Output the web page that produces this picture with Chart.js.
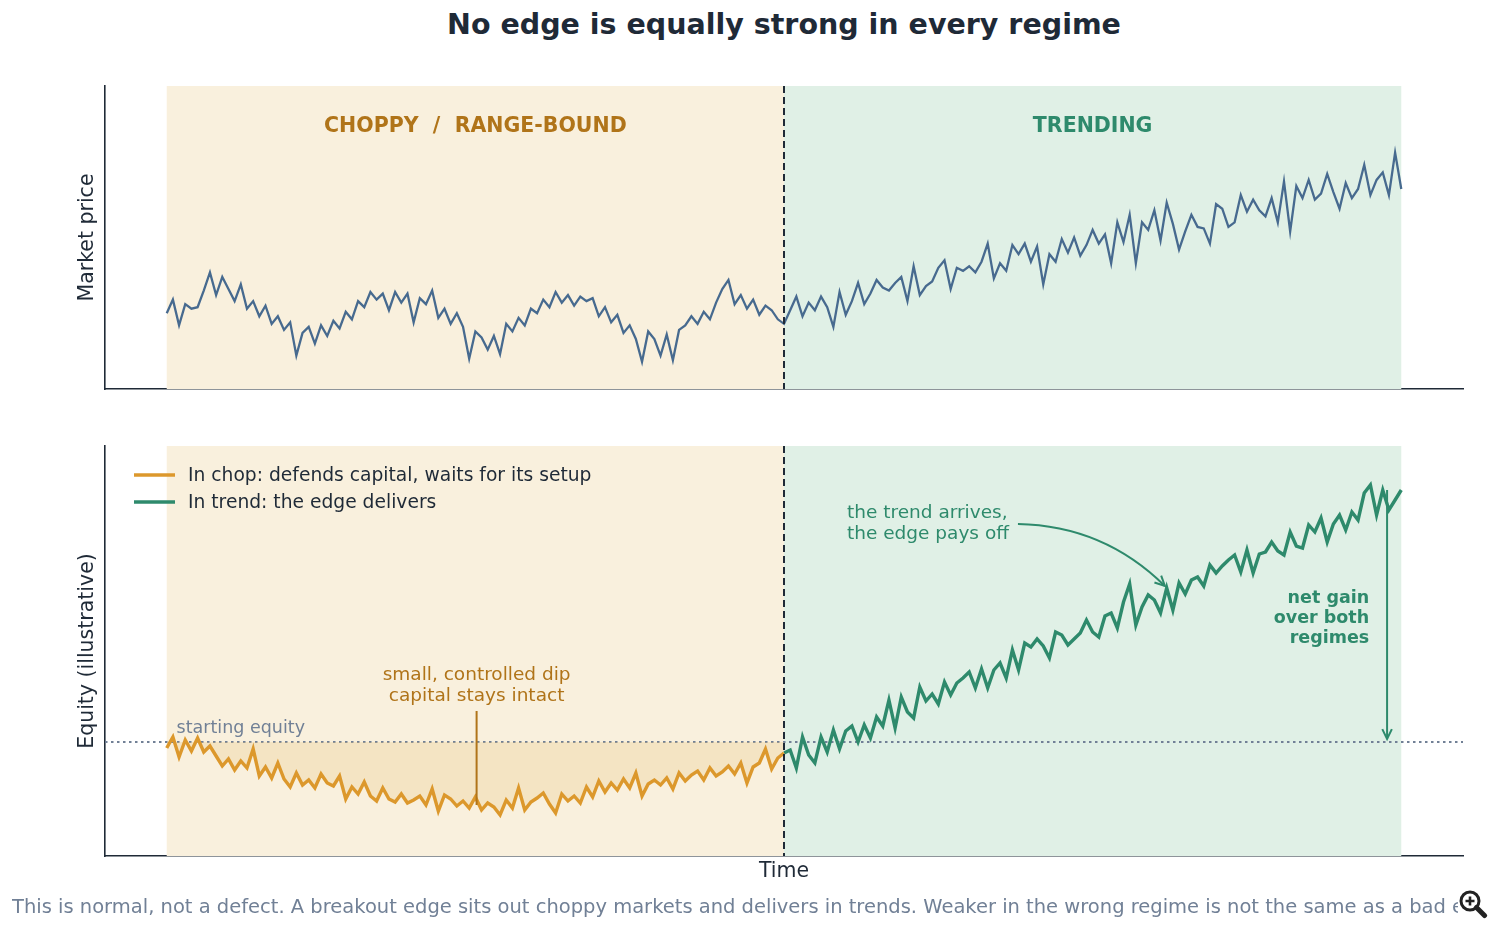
<!DOCTYPE html>
<html>
<head>
<meta charset="utf-8">
<script src="https://cdn.jsdelivr.net/npm/chart.js@4.4.1/dist/chart.umd.min.js"></script>
<style>
  body { margin: 0; background: #fff; width: 1500px; height: 929px; overflow: hidden; position: relative; font-family: "DejaVu Sans", sans-serif; }
  canvas { position: absolute; left: 0; }
  #title { position: absolute; top: 9px; left: 105px; width: 1358px; text-align: center; font-weight: bold; font-size: 28.5px; line-height: 32px; color: #1f2a37; }
  #caption { position: absolute; top: 896px; left: 12px; width: 1446px; overflow: hidden; white-space: nowrap; font-size: 19.5px; line-height: 22px; color: #718096; }
  #zoomicon { position: absolute; left: 1458px; top: 889px; }
</style>
</head>
<body>
<div id="title">No edge is equally strong in every regime</div>
<canvas id="price" width="1500" height="400" style="top:0"></canvas>
<canvas id="equity" width="1500" height="529" style="top:400px"></canvas>
<div id="caption">This is normal, not a defect. A breakout edge sits out choppy markets and delivers in trends. Weaker in the wrong regime is not the same as a bad edge.</div>
<svg id="zoomicon" width="30" height="30" viewBox="0 0 30 30">
  <circle cx="12" cy="12" r="9" fill="#fff" stroke="#222" stroke-width="3"/>
  <path d="M12 7.5v9M7.5 12h9" stroke="#222" stroke-width="2.6"/>
  <path d="M18.5 18.5l8 8" stroke="#222" stroke-width="5" stroke-linecap="round"/>
</svg>
<script>
// time steps: 0..100 choppy, 100..200 trending
var STEPS = 200;
var SPLIT = 100;

// market price
var priceChop = [100.0, 104.5, 96.0, 103.0, 101.5, 102.0, 107.5, 113.5, 106.0, 112.0,
  108.0, 104.0, 109.5, 101.5, 104.0, 99.0, 102.5, 96.5, 99.0, 94.5,
  97.0, 86.0, 93.5, 95.5, 90.0, 96.0, 92.5, 97.5, 95.0, 100.5,
  98.0, 104.0, 102.0, 107.0, 104.5, 106.5, 101.0, 107.0, 103.5, 106.5,
  97.0, 105.0, 103.0, 107.5, 98.5, 101.5, 96.5, 100.0, 95.5, 85.0,
  94.0, 92.0, 88.0, 92.5, 86.5, 96.5, 94.0, 98.5, 96.0, 101.5,
  100.0, 104.5, 102.0, 107.0, 103.5, 106.0, 102.5, 105.5, 104.0, 105.0,
  99.0, 102.0, 97.0, 99.5, 93.5, 96.0, 91.5, 84.0, 94.0, 91.5,
  86.0, 93.0, 84.5, 94.5, 96.0, 99.0, 96.5, 100.5, 98.0, 103.5,
  108.0, 111.0, 103.0, 106.0, 101.5, 104.5, 99.5, 102.5, 101.0, 98.0,
  96.5];
var priceTrend = [101.0, 105.5, 99.0, 103.5, 101.0, 105.5, 102.0, 95.5, 107.0, 99.5,
  104.0, 110.0, 103.0, 106.5, 111.0, 108.5, 107.5, 110.0, 112.0, 104.0,
  115.5, 106.0, 109.0, 110.5, 115.0, 117.5, 108.0, 115.0, 114.0, 115.5,
  113.5, 117.0, 123.0, 111.5, 116.5, 114.0, 122.5, 119.5, 123.0, 117.0,
  122.0, 109.5, 119.5, 117.0, 124.5, 120.0, 125.0, 119.0, 122.5, 127.5,
  123.0, 126.0, 116.5, 130.0, 123.5, 132.5, 116.5, 130.0, 127.5, 134.0,
  124.0, 136.5, 129.5, 121.0, 127.0, 132.5, 128.5, 128.0, 123.0, 136.0,
  134.5, 128.5, 130.0, 139.0, 133.5, 137.5, 134.0, 132.0, 138.0, 130.0,
  143.5, 127.0, 142.0, 138.0, 144.0, 137.5, 139.5, 146.0, 140.0, 134.5,
  143.0, 138.0, 141.0, 149.0, 139.0, 144.0, 146.5, 139.0, 153.0, 141.0];

// equity (illustrative), starting equity = 100
var START_EQUITY = 100;
var equityChop = [99.4, 100.5, 98.5, 100.2, 99.1, 100.4, 99.0, 99.6, 98.6, 97.6,
  98.3, 97.2, 98.1, 97.4, 99.3, 96.6, 97.5, 96.4, 97.9, 96.3,
  95.5, 96.9, 95.7, 96.2, 95.4, 96.8, 95.9, 95.6, 96.6, 94.3,
  95.5, 94.8, 96.0, 94.6, 94.1, 95.4, 94.3, 94.0, 94.8, 93.9,
  94.2, 94.6, 93.7, 95.3, 93.1, 94.7, 94.3, 93.6, 94.1, 93.4,
  94.5, 93.2, 93.9, 93.5, 92.7, 94.2, 93.4, 95.4, 93.2, 94.0,
  94.4, 94.9, 93.8, 92.9, 94.8, 94.1, 94.6, 93.9, 95.5, 94.5,
  96.1, 95.0, 95.9, 95.2, 96.3, 95.4, 96.9, 94.6, 95.8, 96.2,
  95.7, 96.4, 95.3, 96.9, 96.1, 96.7, 97.1, 96.2, 97.4, 96.6,
  97.0, 97.6, 96.8, 97.9, 95.9, 97.5, 97.9, 99.3, 97.3, 98.4,
  98.9];
var equityTrend = [99.2, 97.4, 100.5, 98.7, 97.9, 100.5, 99.0, 101.2, 99.3, 101.1,
  101.6, 100.0, 101.7, 100.4, 102.5, 101.6, 104.2, 101.4, 104.5, 103.0,
  102.4, 105.5, 104.1, 104.8, 103.8, 106.0, 104.7, 105.9, 106.4, 107.0,
  105.4, 107.3, 105.4, 107.2, 107.9, 106.4, 109.2, 107.2, 109.9, 109.5,
  110.3, 109.6, 108.4, 111.0, 110.7, 109.7, 110.3, 110.9, 112.2, 111.0,
  110.5, 112.6, 112.9, 111.4, 114.0, 115.8, 111.7, 113.5, 114.7, 114.2,
  112.9, 115.4, 113.2, 115.9, 114.8, 116.2, 116.5, 115.6, 117.7, 116.9,
  117.6, 118.2, 118.7, 117.0, 119.2, 116.9, 118.8, 119.0, 120.0, 119.1,
  118.7, 121.0, 119.6, 119.4, 121.7, 121.0, 122.4, 120.0, 121.8, 122.7,
  121.2, 123.0, 122.2, 124.9, 125.7, 122.7, 125.2, 123.2, 124.2, 125.2];

var regimeLabels = ['CHOPPY  /  RANGE-BOUND', 'TRENDING'];
var seriesLabels = ['In chop: defends capital, waits for its setup', 'In trend: the edge delivers'];

var DARK = '#1f2a37';
var GRAY = '#718096';
var PRICE_COLOR = '#476a8f';
var CHOP_COLOR = '#dc982c';
var TREND_COLOR = '#2e8a6c';
var CHOP_TEXT = '#b07419';
var CHOP_BG = '#f9f0dd';
var TREND_BG = '#e0f0e6';
var FONT = '"DejaVu Sans", sans-serif';

function toPoints(values, offset) {
  return values.map(function (v, i) { return { x: offset + i, y: v }; });
}

function arrowHead(ctx, x, y, angle, size) {
  ctx.beginPath();
  ctx.moveTo(x - size * Math.cos(angle - 0.45), y - size * Math.sin(angle - 0.45));
  ctx.lineTo(x, y);
  ctx.lineTo(x - size * Math.cos(angle + 0.45), y - size * Math.sin(angle + 0.45));
  ctx.stroke();
}

// shaded regimes + dashed boundary, shared by both panels
var regimePlugin = {
  id: 'regimes',
  beforeDatasetsDraw: function (chart) {
    var ctx = chart.ctx, a = chart.chartArea, x = chart.scales.x;
    var x0 = x.getPixelForValue(0), xs = x.getPixelForValue(SPLIT), x1 = x.getPixelForValue(STEPS);
    ctx.save();
    ctx.fillStyle = CHOP_BG;
    ctx.fillRect(x0, a.top, xs - x0, a.bottom - a.top);
    ctx.fillStyle = TREND_BG;
    ctx.fillRect(xs, a.top, x1 - xs, a.bottom - a.top);
    if (chart.canvas.id === 'equity') {
      var y = chart.scales.y.getPixelForValue(START_EQUITY);
      ctx.strokeStyle = GRAY;
      ctx.lineWidth = 2;
      ctx.setLineDash([2.5, 3.5]);
      ctx.beginPath();
      ctx.moveTo(a.left, y);
      ctx.lineTo(a.right, y);
      ctx.stroke();
    }
    ctx.restore();
  },
  afterDatasetsDraw: function (chart) {
    var ctx = chart.ctx, a = chart.chartArea, x = chart.scales.x;
    var xs = x.getPixelForValue(SPLIT);
    ctx.save();
    ctx.strokeStyle = DARK;
    ctx.lineWidth = 2;
    ctx.setLineDash([7, 4]);
    ctx.beginPath();
    ctx.moveTo(xs, a.top);
    ctx.lineTo(xs, a.bottom);
    ctx.stroke();
    ctx.restore();
  }
};

var priceNotes = {
  id: 'priceNotes',
  afterDraw: function (chart) {
    var ctx = chart.ctx, x = chart.scales.x, y = chart.scales.y;
    ctx.save();
    ctx.font = 'bold 20.5px ' + FONT;
    ctx.textAlign = 'center';
    ctx.textBaseline = 'middle';
    ctx.fillStyle = CHOP_TEXT;
    ctx.fillText(regimeLabels[0], x.getPixelForValue(SPLIT / 2), y.getPixelForValue(161.5));
    ctx.fillStyle = TREND_COLOR;
    ctx.fillText(regimeLabels[1], x.getPixelForValue((SPLIT + STEPS) / 2), y.getPixelForValue(161.5));
    ctx.restore();
  }
};

var equityNotes = {
  id: 'equityNotes',
  afterDraw: function (chart) {
    var ctx = chart.ctx, a = chart.chartArea, x = chart.scales.x, y = chart.scales.y;
    var px = function (v) { return x.getPixelForValue(v); };
    var py = function (v) { return y.getPixelForValue(v) + 1.5; };
    ctx.save();
    ctx.textBaseline = 'middle';

    // legend
    ctx.font = '18.7px ' + FONT;
    ctx.textAlign = 'left';
    chart.data.datasets.forEach(function (ds, i) {
      var ly = a.top + 29 + i * 27;
      ctx.strokeStyle = ds.borderColor;
      ctx.lineWidth = 3.5;
      ctx.beginPath();
      ctx.moveTo(a.left + 29, ly);
      ctx.lineTo(a.left + 70, ly);
      ctx.stroke();
      ctx.fillStyle = DARK;
      ctx.fillText(ds.label, a.left + 83, ly + 1);
    });

    // starting equity
    ctx.font = '17.5px ' + FONT;
    ctx.fillStyle = GRAY;
    ctx.fillText('starting equity', px(1.6), py(101.5));

    // controlled dip
    ctx.font = '18.5px ' + FONT;
    ctx.textAlign = 'center';
    ctx.fillStyle = CHOP_TEXT;
    ctx.fillText('small, controlled dip', px(50.2), py(106.8));
    ctx.fillText('capital stays intact', px(50.2), py(104.7));
    ctx.strokeStyle = CHOP_TEXT;
    ctx.lineWidth = 2;
    ctx.beginPath();
    ctx.moveTo(px(50.2), y.getPixelForValue(103.1));
    ctx.lineTo(px(50.2), y.getPixelForValue(93.7));
    ctx.stroke();

    // trend arrives
    ctx.textAlign = 'left';
    ctx.fillStyle = TREND_COLOR;
    ctx.fillText('the trend arrives,', px(110.2), py(123.0));
    ctx.fillText('the edge pays off', px(110.2), py(120.9));
    var sx = px(137.9), sy = y.getPixelForValue(121.8), ex = px(161.7), ey = y.getPixelForValue(115.6);
    var cx = (sx + ex) / 2 + 0.2 * (ey - sy), cy = (sy + ey) / 2 - 0.2 * (ex - sx);
    ctx.strokeStyle = TREND_COLOR;
    ctx.lineWidth = 2;
    ctx.beginPath();
    ctx.moveTo(sx, sy);
    ctx.quadraticCurveTo(cx, cy, ex, ey);
    ctx.stroke();
    arrowHead(ctx, ex, ey, Math.atan2(ey - cy, ex - cx), 11);

    // net gain
    var gx = px(197.7), gy0 = y.getPixelForValue(125.2), gy1 = y.getPixelForValue(100.3);
    ctx.beginPath();
    ctx.moveTo(gx, gy0);
    ctx.lineTo(gx, gy1);
    ctx.stroke();
    arrowHead(ctx, gx, gy1, Math.PI / 2, 11);
    ctx.font = 'bold 17.5px ' + FONT;
    ctx.textAlign = 'right';
    ctx.fillText('net gain', px(194.8), py(114.5));
    ctx.fillText('over both', px(194.8), py(112.5));
    ctx.fillText('regimes', px(194.8), py(110.5));
    ctx.restore();
  }
};

function axisOptions(yMin, yMax, yTitle, xTitle) {
  return {
    x: {
      type: 'linear', min: -10, max: 210,
      grid: { display: false, drawTicks: false },
      border: { display: true, color: DARK, width: 1.6 },
      ticks: { display: false },
      title: xTitle ? { display: true, text: xTitle, color: DARK, font: { family: FONT, size: 20.5 }, padding: { top: 3, bottom: 4 } } : { display: false }
    },
    y: {
      min: yMin, max: yMax,
      grid: { display: false, drawTicks: false },
      border: { display: true, color: DARK, width: 1.6 },
      ticks: { display: false },
      title: { display: true, text: yTitle, color: DARK, font: { family: FONT, size: 20.5 }, padding: { top: 2, bottom: 5.4 } }
    }
  };
}

new Chart(document.getElementById('price'), {
  type: 'line',
  data: {
    datasets: [{
      label: 'Market price',
      data: toPoints(priceChop, 0).concat(toPoints(priceTrend, SPLIT + 1)),
      borderColor: PRICE_COLOR,
      borderWidth: 2.3,
      pointRadius: 0,
      tension: 0
    }]
  },
  options: {
    responsive: false,
    animation: false,
    layout: { padding: { left: 73, right: 37, top: 86, bottom: 11 } },
    plugins: { legend: { display: false }, tooltip: { enabled: false } },
    scales: axisOptions(75, 175, 'Market price', null)
  },
  plugins: [regimePlugin, priceNotes]
});

new Chart(document.getElementById('equity'), {
  type: 'line',
  data: {
    datasets: [{
      label: seriesLabels[0],
      data: toPoints(equityChop, 0),
      borderColor: CHOP_COLOR,
      backgroundColor: 'rgba(232, 196, 130, 0.28)',
      fill: { value: START_EQUITY },
      borderWidth: 3.4,
      pointRadius: 0,
      tension: 0
    }, {
      label: seriesLabels[1],
      data: toPoints([equityChop[SPLIT]].concat(equityTrend), SPLIT),
      borderColor: TREND_COLOR,
      borderWidth: 3.4,
      pointRadius: 0,
      fill: false,
      tension: 0
    }]
  },
  options: {
    responsive: false,
    animation: false,
    layout: { padding: { left: 73, right: 37, top: 46, bottom: 41.4 } },
    plugins: { legend: { display: false }, tooltip: { enabled: false } },
    scales: axisOptions(88.6, 129.6, 'Equity (illustrative)', 'Time')
  },
  plugins: [regimePlugin, equityNotes]
});
</script>
</body>
</html>
